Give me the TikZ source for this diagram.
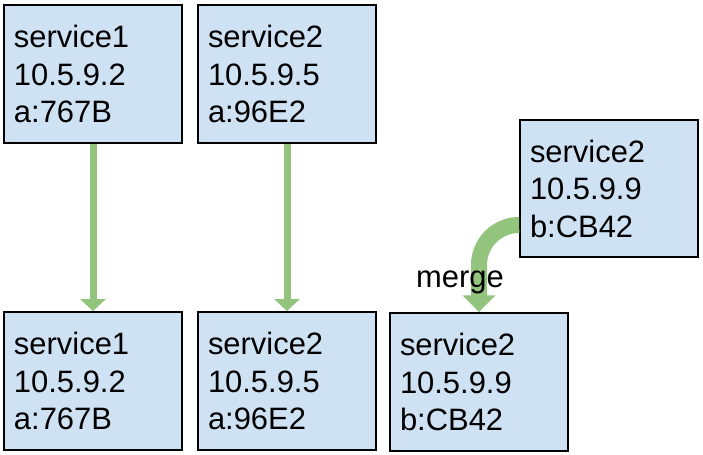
\documentclass[tikz,border=0pt]{standalone}
\usepackage{fontspec}
\setmainfont{Liberation Sans}
\usetikzlibrary{arrows.meta, positioning}
\definecolor{cfill}{HTML}{CFE2F3}
\definecolor{cgreen}{HTML}{93C47D}
\tikzset{
  every picture/.style={font=\fontsize{22}{26.7}\selectfont},
  svc/.style={draw=black, fill=cfill, line width=1.3pt, align=left, inner xsep=0.25cm, inner ysep=0pt,
    text width=3.95cm, minimum width=4.45cm, minimum height=3.45cm},
  arrow/.style={-{Triangle[length=0.3cm, width=0.625cm]}, draw=cgreen, line width=0.175cm},
}
\begin{document}
\begin{tikzpicture}[
  mergearrow/.style={-{Triangle[length=0.42cm, width=0.8cm]}, draw=cgreen, line width=0.4cm, rounded corners=1cm}]
  \useasboundingbox (0,0) rectangle (17.575,11.375);
  % ---- top row
  \node[svc] (s1) at (2.325,9.525) {service1\\10.5.9.2\\a:767B};
  \node[svc] (s2) at (7.175,9.525) {service2\\10.5.9.5\\a:96E2};
  \node[svc, minimum height=3.425cm] (s3) at (15.225,6.66) {service2\\10.5.9.9\\b:CB42};
  % ---- bottom row
  \node[svc] (r1) at (2.325,1.85) {service1\\10.5.9.2\\a:767B};
  \node[svc] (r2) at (7.175,1.85) {service2\\10.5.9.5\\a:96E2};
  \node[svc] (r3) at (11.975,1.825) {service2\\10.5.9.9\\b:CB42};
  % arrows
  \draw[arrow] (s1) -- (r1);
  \draw[arrow] (s2) -- (r2);
  \draw[mergearrow] ([yshift=-0.91cm]s3.west) -| (r3.north);
  \node[anchor=base] (mlbl) at (11.5,4.175) {merge};
\end{tikzpicture}
\end{document}
